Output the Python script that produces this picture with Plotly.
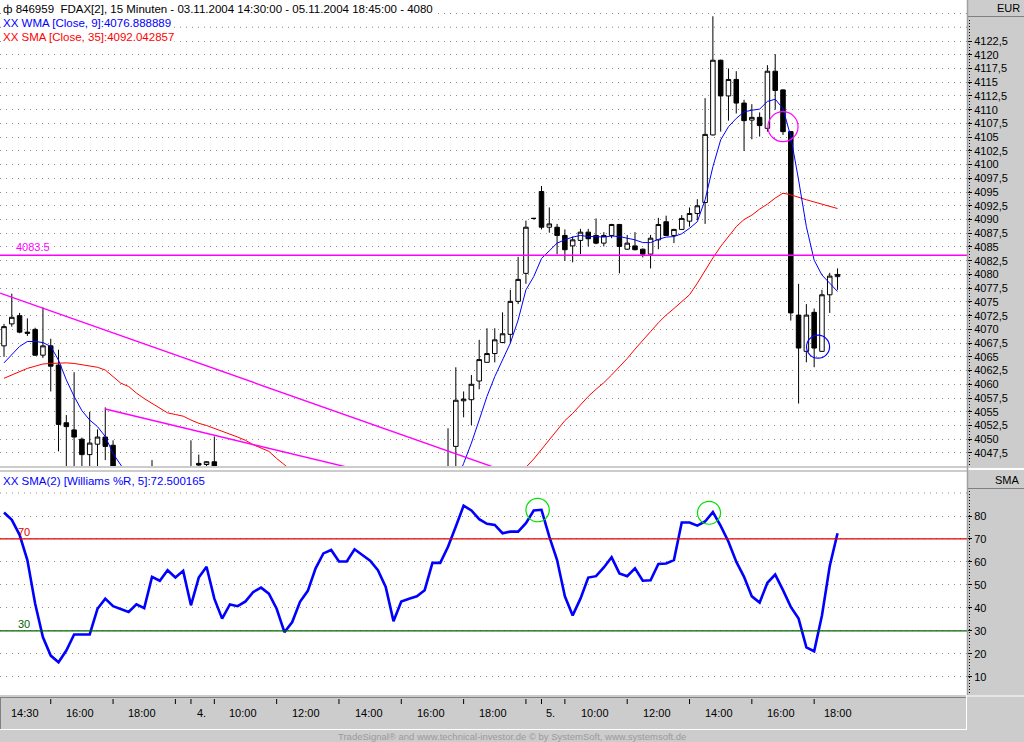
import plotly.graph_objects as go

W, H = 1024, 742
def px(x): return x / W
def py(y): return 1 - y / H

# ---------------- data ----------------
bar_idx = list(range(108))

open_ = [
4067.0, 4071.0, 4072.5, 4069.5, 4070.0, 4065.3, 4067.0, 4063.5, 4053.0, 4051.7,
4050.0, 4047.2, 4049.1, 4050.4, 4048.9, 4043.5, 4041.0, 4042.0, 4040.0, 4042.0,
4044.0, 4042.0, 4043.5, 4042.0, 4043.0, 4045.6, 4045.4, 4045.9, 4044.0, 4039.0,
4041.0, 4040.0, 4041.5, 4042.0, 4042.5, 4041.0, 4038.0, 4036.0, 4038.0, 4040.0,
4041.0, 4043.0, 4044.0, 4043.5, 4042.0, 4043.5, 4044.5, 4043.0, 4042.0, 4041.0,
4039.0, 4036.0, 4038.5, 4039.0, 4040.0, 4041.0, 4043.5, 4043.0, 4048.7, 4057.0,
4057.2, 4060.6, 4064.0, 4065.6, 4067.6, 4069.1, 4075.1, 4080.2, 4090.2, 4095.1,
4088.6, 4088.6, 4087.1, 4085.2, 4086.2, 4087.7, 4087.1, 4085.7, 4087.1, 4089.1,
4084.6, 4085.2, 4084.6, 4083.7, 4086.3, 4089.6, 4087.1, 4088.2, 4089.7, 4091.1,
4093.1, 4105.4, 4119.0, 4112.5, 4115.5, 4111.2, 4108.1, 4108.6, 4106.6, 4117.0,
4113.6, 4106.0, 4072.6, 4066.0, 4073.1, 4066.0, 4076.3, 4079.6]

high = [
4071.0, 4076.5, 4073.0, 4072.0, 4070.3, 4074.0, 4068.3, 4066.3, 4054.4, 4062.2,
4050.3, 4055.0, 4051.8, 4055.8, 4049.8, 4044.5, 4043.0, 4044.0, 4043.0, 4046.2,
4045.0, 4044.5, 4044.5, 4044.0, 4049.8, 4047.2, 4046.0, 4050.5, 4044.5, 4042.0,
4042.0, 4042.0, 4043.0, 4043.5, 4043.0, 4042.0, 4039.0, 4039.0, 4041.0, 4042.0,
4044.0, 4044.5, 4044.8, 4044.0, 4044.0, 4044.8, 4044.8, 4043.5, 4043.0, 4042.0,
4040.0, 4039.0, 4040.0, 4041.0, 4042.0, 4044.0, 4044.5, 4052.0, 4063.1, 4058.7,
4061.7, 4068.1, 4070.2, 4070.2, 4073.1, 4077.2, 4083.2, 4089.8, 4090.3, 4096.1,
4092.2, 4089.2, 4088.2, 4086.9, 4088.3, 4088.3, 4090.2, 4087.7, 4089.2, 4089.2,
4087.2, 4087.7, 4084.7, 4087.2, 4090.3, 4090.7, 4088.3, 4090.8, 4092.2, 4093.7,
4112.1, 4127.0, 4119.1, 4117.5, 4117.0, 4111.8, 4111.0, 4109.5, 4118.1, 4120.1,
4113.7, 4106.1, 4078.3, 4074.6, 4073.8, 4077.2, 4080.3, 4081.1]

low = [
4065.0, 4070.5, 4069.3, 4068.8, 4065.2, 4064.8, 4058.7, 4047.8, 4044.0, 4043.0,
4044.0, 4044.0, 4044.5, 4046.2, 4042.0, 4040.0, 4038.0, 4039.0, 4038.0, 4041.0,
4041.0, 4040.0, 4041.0, 4041.0, 4039.0, 4041.0, 4042.0, 4042.0, 4038.0, 4038.0,
4039.0, 4039.0, 4040.0, 4041.0, 4040.0, 4037.0, 4035.0, 4035.0, 4037.0, 4039.0,
4040.0, 4042.0, 4042.0, 4041.0, 4041.5, 4043.0, 4042.0, 4041.0, 4040.0, 4038.0,
4035.0, 4035.0, 4037.0, 4038.0, 4039.0, 4040.0, 4042.0, 4040.5, 4044.0, 4054.0,
4052.5, 4059.1, 4064.0, 4064.0, 4067.5, 4067.5, 4074.6, 4078.3, 4090.0, 4088.2,
4087.6, 4083.7, 4082.5, 4082.2, 4083.7, 4085.1, 4085.5, 4085.1, 4086.6, 4080.2,
4084.5, 4084.4, 4083.1, 4081.1, 4084.6, 4087.0, 4085.7, 4088.1, 4088.7, 4089.9,
4089.2, 4105.3, 4106.0, 4108.0, 4109.3, 4102.5, 4104.6, 4105.1, 4106.0, 4110.0,
4105.4, 4071.6, 4056.5, 4064.0, 4063.1, 4065.9, 4073.0, 4077.2]

close = [
4070.5, 4072.2, 4069.5, 4069.3, 4065.3, 4067.0, 4063.3, 4052.7, 4052.3, 4050.4,
4047.2, 4049.3, 4050.4, 4048.7, 4043.5, 4041.0, 4042.0, 4040.0, 4042.0, 4044.0,
4042.0, 4043.5, 4042.0, 4043.5, 4040.0, 4045.3, 4045.9, 4044.0, 4039.0, 4041.0,
4040.0, 4041.5, 4042.0, 4042.5, 4041.0, 4038.0, 4036.0, 4038.0, 4040.0, 4041.0,
4043.0, 4044.0, 4043.5, 4042.0, 4043.5, 4044.5, 4043.0, 4042.0, 4041.0, 4039.0,
4036.0, 4038.5, 4039.0, 4040.0, 4041.0, 4043.5, 4043.0, 4044.0, 4057.1, 4057.3,
4060.0, 4064.5, 4065.6, 4068.1, 4069.2, 4075.1, 4079.1, 4088.6, 4090.2, 4088.6,
4089.2, 4087.1, 4084.5, 4086.3, 4087.7, 4086.5, 4085.7, 4087.1, 4089.1, 4085.1,
4085.7, 4084.5, 4083.7, 4086.6, 4089.1, 4087.1, 4088.2, 4090.2, 4091.1, 4092.5,
4105.5, 4119.0, 4112.5, 4115.5, 4111.2, 4108.0, 4108.6, 4107.1, 4117.0, 4113.5,
4106.0, 4073.0, 4066.6, 4072.6, 4066.6, 4076.3, 4079.7, 4080.0]

wma9 = [
4063.9, 4065.5, 4066.9, 4067.8, 4067.8, 4067.6, 4066.9, 4064.4, 4060.8, 4057.8,
4055.2, 4053.5, 4052.3, 4050.5, 4047.4, 4045.3, 4043.0, 4041.6, 4040.9, 4041.4,
4041.8, 4042.2, 4042.3, 4042.6, 4041.8, 4042.4, 4043.1, 4043.4, 4042.0, 4041.4,
4040.9, 4040.9, 4041.3, 4041.8, 4041.7, 4040.6, 4039.2, 4038.6, 4038.9, 4039.5,
4040.6, 4041.7, 4042.4, 4042.5, 4042.8, 4043.4, 4043.4, 4043.0, 4042.4, 4041.3,
4039.6, 4039.0, 4038.9, 4039.2, 4039.7, 4040.3, 4040.2, 4040.6, 4042.2, 4045.6,
4049.3, 4053.5, 4057.8, 4061.4, 4064.4, 4067.5, 4071.7, 4077.2, 4079.6, 4082.9,
4084.3, 4085.7, 4086.3, 4086.8, 4087.1, 4086.9, 4086.9, 4086.8, 4087.0, 4086.9,
4086.6, 4086.3, 4085.8, 4085.8, 4086.4, 4086.8, 4086.9, 4087.4, 4088.4, 4089.6,
4093.6, 4099.6, 4104.5, 4106.9, 4108.4, 4109.6, 4109.9, 4110.1, 4111.5, 4111.9,
4110.2, 4105.1, 4097.2, 4088.7, 4082.6, 4079.9, 4078.4, 4076.9]

sma35 = [
4061.1, 4061.7, 4062.3, 4062.9, 4063.3, 4063.7, 4063.8, 4063.9, 4063.9, 4063.8,
4063.6, 4063.3, 4063.1, 4062.6, 4061.4, 4060.2, 4059.6, 4058.4, 4057.4, 4056.5,
4055.6, 4054.8, 4054.5, 4054.2, 4053.5, 4052.9, 4052.5, 4052.0, 4051.4, 4050.9,
4050.4, 4049.8, 4049.0, 4048.4, 4047.8, 4046.5, 4045.3, 4044.2, 4043.3, 4042.6,
4042.0, 4041.5, 4041.0, 4040.5, 4040.1, 4039.8, 4039.5, 4039.3, 4039.1, 4038.9,
4038.7, 4038.5, 4038.4, 4038.3, 4038.2, 4038.2, 4038.3, 4038.4, 4038.8, 4039.3,
4039.8, 4040.4, 4041.0, 4041.6, 4042.3, 4043.0, 4043.9, 4044.9, 4046.4, 4048.2,
4049.9, 4051.6, 4053.4, 4054.7, 4056.2, 4057.8, 4059.1, 4060.3, 4061.7, 4063.2,
4064.7, 4066.4, 4068.1, 4069.6, 4071.2, 4072.6, 4073.8, 4075.1, 4076.3, 4078.4,
4080.8, 4083.0, 4085.1, 4087.0, 4088.7, 4090.0, 4090.8, 4091.9, 4092.8, 4093.9,
4094.8, 4094.5, 4094.0, 4093.6, 4093.2, 4092.8, 4092.5, 4092.0]

wpr_sma = [
81.5, 78.3, 71.8, 60.8, 41.8, 27.2, 19.2, 16.3, 21.4, 28.4,
28.4, 28.4, 39.6, 44.0, 40.7, 39.6, 38.2, 41.5, 39.9, 53.5,
51.8, 56.4, 53.2, 56.1, 41.1, 53.2, 57.9, 44.0, 35.3, 41.5,
40.7, 42.8, 46.9, 48.8, 46.2, 39.6, 29.4, 33.8, 42.6, 47.4,
57.2, 63.7, 65.2, 60.2, 60.2, 65.5, 63.0, 60.5, 56.4, 49.1,
34.2, 42.8, 44.0, 45.0, 47.7, 59.6, 59.6, 66.6, 75.4, 84.5,
82.4, 78.6, 76.6, 76.1, 72.5, 73.2, 73.2, 76.9, 82.4, 82.7,
71.0, 60.8, 45.0, 36.7, 44.0, 53.2, 53.8, 57.6, 62.0, 55.0,
53.8, 57.2, 51.8, 52.0, 59.1, 59.3, 60.8, 77.2, 77.2, 75.8,
77.6, 81.7, 75.7, 68.8, 60.1, 53.5, 45.0, 42.3, 50.9, 54.5,
47.7, 40.4, 35.3, 22.8, 21.1, 36.7, 58.2, 72.5]

# drawing tools
trend1_x = [-0.5, 63.0]
trend1_y = [4076.6, 4044.85]
trend2_x = [13.0, 45.0]
trend2_y = [4055.5, 4044.6]
hline_level = 4083.5
upper_band = 70
lower_band = 30

# circles (center bar, center value, half-width bars, half-height value)
price_circles = [(100.0, 4106.9, 1.93, 2.73, '#ff00ff'), (104.5, 4066.85, 1.48, 2.09, '#0000ff')]
ind_circles = [(68.5, 82.6, 1.5, 5.1, '#00e000'), (90.5, 81.4, 1.48, 5.0, '#00e000')]

# axes
price_ticks = [4047.5, 4050, 4052.5, 4055, 4057.5, 4060, 4062.5, 4065, 4067.5, 4070,
               4072.5, 4075, 4077.5, 4080, 4082.5, 4085, 4087.5, 4090, 4092.5, 4095,
               4097.5, 4100, 4102.5, 4105, 4107.5, 4110, 4112.5, 4115, 4117.5, 4120, 4122.5]
price_extra_grid = [4125, 4127.5]
ind_ticks = [10, 20, 30, 40, 50, 60, 70, 80]
ind_extra_grid = [90]
time_tick_idx = [6, 14, 22, 24, 27, 35, 43, 51, 59, 67, 69, 72, 80, 88, 96, 104]
time_label_pos = [2.7, 9.8, 17.7, 25.3, 30.7, 38.8, 46.9, 54.8, 62.8, 70.2, 75.9, 83.8, 91.8, 99.7, 107.1]
time_labels = ["14:30", "16:00", "18:00", "4.", "10:00", "12:00", "14:00", "16:00", "18:00",
               "5.", "10:00", "12:00", "14:00", "16:00", "18:00"]

# ---------------- layout geometry ----------------
PLOT_R = 967
MAIN_TOP, MAIN_BOT = 0, 466
IND_TOP, IND_BOT = 472, 695
bar_px = 7.79
x0_px = 4
xr = [-x0_px / bar_px, (PLOT_R - x0_px) / bar_px]
y_main_range = [4122.5 - (MAIN_BOT - 41) / 5.493, 4122.5 + 41 / 5.493]
y_ind_range = [80 - (IND_BOT - 516) / 2.296, 80 + (516 - IND_TOP) / 2.296]

FONT = "Liberation Sans, Arial, sans-serif"
GRAY = "#cccccc"
GRID = "#8c8c8c"

fig = go.Figure()

fig.add_trace(go.Candlestick(
    x=bar_idx, open=open_, high=high, low=low, close=close,
    increasing=dict(line=dict(color="black", width=1), fillcolor="white"),
    decreasing=dict(line=dict(color="black", width=1), fillcolor="black"),
    whiskerwidth=0, xaxis="x", yaxis="y", hoverinfo="skip"))

fig.add_trace(go.Scatter(x=bar_idx, y=sma35, mode="lines",
                         line=dict(color="#ff0000", width=1), xaxis="x", yaxis="y"))
fig.add_trace(go.Scatter(x=bar_idx, y=wma9, mode="lines",
                         line=dict(color="#0000ff", width=1), xaxis="x", yaxis="y"))
fig.add_trace(go.Scatter(x=trend1_x, y=trend1_y, mode="lines",
                         line=dict(color="#ff00ff", width=1.4), xaxis="x", yaxis="y"))
fig.add_trace(go.Scatter(x=trend2_x, y=trend2_y, mode="lines",
                         line=dict(color="#ff00ff", width=1.4), xaxis="x", yaxis="y"))
fig.add_trace(go.Scatter(x=bar_idx, y=wpr_sma, mode="lines",
                         line=dict(color="#0000ff", width=2.6), xaxis="x2", yaxis="y2"))

shapes = []
# horizontal level line
shapes.append(dict(type="line", xref="x domain", yref="y", x0=0, x1=1,
                   y0=hline_level, y1=hline_level, line=dict(color="#ff00ff", width=1.5)))
# band lines
shapes.append(dict(type="line", xref="x2 domain", yref="y2", x0=0, x1=1,
                   y0=upper_band, y1=upper_band, line=dict(color="#e00000", width=1.3)))
shapes.append(dict(type="line", xref="x2 domain", yref="y2", x0=0, x1=1,
                   y0=lower_band, y1=lower_band, line=dict(color="#006400", width=1.3)))
# extra grid lines
for v in price_extra_grid:
    shapes.append(dict(type="line", xref="x domain", yref="y", x0=0, x1=1, y0=v, y1=v,
                       line=dict(color=GRID, width=1, dash="1px,5px"), layer="below"))
for v in ind_extra_grid:
    shapes.append(dict(type="line", xref="x2 domain", yref="y2", x0=0, x1=1, y0=v, y1=v,
                       line=dict(color=GRID, width=1, dash="1px,5px"), layer="below"))
# circles
for cx, cy, hx, hy, col in price_circles:
    shapes.append(dict(type="circle", xref="x", yref="y", x0=cx - hx, x1=cx + hx,
                       y0=cy - hy, y1=cy + hy, line=dict(color=col, width=1.2)))
for cx, cy, hx, hy, col in ind_circles:
    shapes.append(dict(type="circle", xref="x2", yref="y2", x0=cx - hx, x1=cx + hx,
                       y0=cy - hy, y1=cy + hy, line=dict(color=col, width=1.2)))

# frame decorations (paper coords)
def pline(x0, y0, x1, y1, color, width=1, dash=None):
    d = dict(type="line", xref="paper", yref="paper", x0=px(x0), y0=py(y0), x1=px(x1), y1=py(y1),
             line=dict(color=color, width=width))
    if dash:
        d["line"]["dash"] = dash
    shapes.append(d)

pline(0, 469, 1024, 469, "white", 2)                 # panel separator
pline(967.5, 0, 967.5, 695, "#a0a0a0", 1.5)           # right column separator
pline(969.5, 20, 969.5, 466, "black", 1, "1px,2px")   # dotted price axis line
pline(969.5, 491, 969.5, 695, "black", 1, "1px,2px")  # dotted indicator axis line
pline(968, 16.5, 1024, 16.5, "#808080", 1)            # EUR header
pline(968, 488.5, 1024, 488.5, "#808080", 1)          # SMA header
pline(0, 697.5, 966, 697.5, "#808080", 1)             # time axis box top
pline(0.5, 697, 0.5, 729, "#808080", 1)               # time axis box left
pline(966.5, 695, 966.5, 730, "white", 1)             # time axis box right
pline(0, 729.5, 967, 729.5, "white", 1)               # time axis box bottom
pline(967, 696, 1024, 696, "white", 1)
for t in time_tick_idx:
    shapes.append(dict(type="line", xref="x2", yref="paper", x0=t, x1=t,
                       y0=py(699), y1=py(704), line=dict(color="black", width=1)))

ann = []
def text(x, y, s, color="black", size=11, xanchor="left", bg=None, xref="paper", yref="paper"):
    a = dict(x=x, y=y, xref=xref, yref=yref, text=s, showarrow=False, xanchor=xanchor,
             yanchor="middle", font=dict(family=FONT, size=size, color=color), borderpad=0)
    if bg:
        a["bgcolor"] = bg
    ann.append(a)

text(px(2), py(9), "ф 846959  FDAX[2], 15 Minuten - 03.11.2004 14:30:00 - 05.11.2004 18:45:00 - 4080",
     bg="white", size=11.5)
text(px(2), py(23), "XX WMA [Close, 9]:4076.888889", color="#0000ff", bg="white", size=11.5)
text(px(2), py(37), "XX SMA [Close, 35]:4092.042857", color="#ff0000", bg="white", size=11.5)
text(px(2), py(481), "XX SMA(2) [Williams %R, 5]:72.500165", color="#0000ff", bg="white", size=11.5)
text(px(15), py(247), "4083.5", color="#ff00ff")
text(px(17), py(532), "70", color="#e00000")
text(px(17), py(624), "30", color="#006400")
text(px(1021), py(8), "EUR", xanchor="right")
text(px(1021), py(480), "SMA", xanchor="right")
for pos, lab in zip(time_label_pos, time_labels):
    text(pos, py(713), lab, xanchor="center", xref="x2")
text(0.5, py(736), "TradeSignal® and www.technical-investor.de © by SystemSoft, www.systemsoft.de",
     color="#9a9a9a", size=9.5, xanchor="center")

fig.update_layout(
    width=W, height=H, margin=dict(l=0, r=0, t=0, b=0, pad=0),
    paper_bgcolor=GRAY, plot_bgcolor="white", showlegend=False,
    boxgap=0.42, boxgroupgap=0,
    font=dict(family=FONT, size=11, color="black"),
    xaxis=dict(domain=[0, px(PLOT_R)], range=xr, anchor="y", showticklabels=False,
               showgrid=False, zeroline=False, showline=False, ticks="",
               rangeslider=dict(visible=False), fixedrange=True),
    xaxis2=dict(domain=[0, px(PLOT_R)], range=xr, anchor="y2", matches="x", showticklabels=False,
                showgrid=False, zeroline=False, showline=False, ticks=""),
    yaxis=dict(domain=[py(MAIN_BOT), py(MAIN_TOP)], range=y_main_range, side="right", anchor="x",
               tickvals=price_ticks, ticktext=[("%g" % v).replace(".", ",") for v in price_ticks],
               ticks="outside", ticklen=4, tickcolor="black", showline=False, zeroline=False,
               showgrid=True, gridcolor=GRID, gridwidth=1, griddash="1px,5px",
               tickfont=dict(family=FONT, size=11, color="black")),
    yaxis2=dict(domain=[py(IND_BOT), py(IND_TOP)], range=y_ind_range, side="right", anchor="x2",
                tickvals=ind_ticks, ticktext=[str(v) for v in ind_ticks],
                ticks="outside", ticklen=4, tickcolor="black", showline=False, zeroline=False,
                showgrid=True, gridcolor=GRID, gridwidth=1, griddash="1px,5px",
                tickfont=dict(family=FONT, size=11, color="black")),
    shapes=shapes, annotations=ann,
)

fig.write_html("out.html", config={"displayModeBar": False, "staticPlot": True},
               post_script="document.body.style.margin='0';document.body.style.overflow='hidden';")
